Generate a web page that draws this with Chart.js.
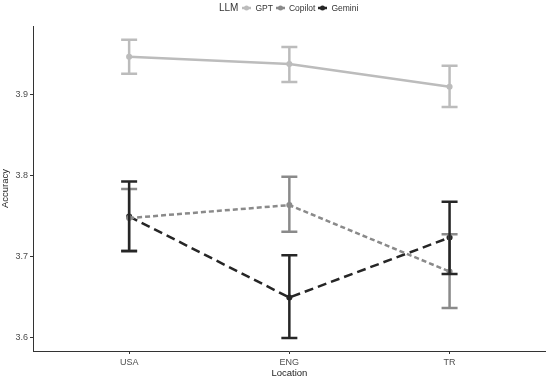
<!DOCTYPE html>
<html>
<head>
<meta charset="utf-8">
<script src="https://cdn.jsdelivr.net/npm/chart.js@4"></script>
<style>
  body { margin:0; background:#fff; }
  #wrap { position:relative; width:550px; height:380px; }
  #legend { position:absolute; top:2px; left:219px; display:flex; align-items:center;
    font-family:"Liberation Sans", Arial, sans-serif; font-size:8.5px; color:#333; }
  #legend .ttl { font-size:10px; margin-right:4px; }
  #legend .it { display:flex; align-items:center; margin-right:3px; }
  #legend canvas { margin-right:4px; }
</style>
</head>
<body>
<div id="wrap">
  <canvas id="chart" width="550" height="380"></canvas>
  <div id="legend"><span class="ttl">LLM</span></div>
</div>
<script>
const locations = ["USA","ENG","TR"];
const llms = ["GPT","Copilot","Gemini"];
const gptMean = [3.946, 3.937, 3.909];
const gptLow  = [3.925, 3.915, 3.884];
const gptHigh = [3.967, 3.958, 3.935];
const copilotMean = [3.747, 3.763, 3.681];
const copilotLow  = [3.707, 3.730, 3.636];
const copilotHigh = [3.783, 3.798, 3.727];
const geminiMean = [3.749, 3.649, 3.723];
const geminiLow  = [3.706, 3.599, 3.678];
const geminiHigh = [3.792, 3.701, 3.767];
const yTicks = [3.6, 3.7, 3.8, 3.9];

const colors = ["#bcbcbc","#8a8a8a","#262626"];
const dashes = [[], [5,3], [9,5]];
const means = [gptMean, copilotMean, geminiMean];
const lows = [gptLow, copilotLow, geminiLow];
const highs = [gptHigh, copilotHigh, geminiHigh];

const datasets = llms.map((name,k)=>({
  label: name,
  data: means[k].map((v,i)=>({x:i, y:v})),
  borderColor: colors[k],
  backgroundColor: colors[k],
  borderWidth: 2.5,
  borderDash: dashes[k],
  pointRadius: 1.8,
  pointHoverRadius: 1.8,
  tension: 0,
  low: lows[k],
  high: highs[k]
}));

const errorBars = {
  id: "errorBars",
  afterDatasetsDraw(chart){
    const ctx = chart.ctx;
    const xs = chart.scales.x, ys = chart.scales.y;
    chart.data.datasets.forEach(ds=>{
      ctx.save();
      ctx.strokeStyle = ds.borderColor;
      ctx.lineWidth = 2.5;
      ds.low.forEach((lo,i)=>{
        const x = xs.getPixelForValue(i);
        const y1 = ys.getPixelForValue(lo), y2 = ys.getPixelForValue(ds.high[i]);
        ctx.beginPath();
        ctx.moveTo(x,y1); ctx.lineTo(x,y2);
        ctx.moveTo(x-8,y1); ctx.lineTo(x+8,y1);
        ctx.moveTo(x-8,y2); ctx.lineTo(x+8,y2);
        ctx.stroke();
      });
      ctx.restore();
    });
  }
};

new Chart(document.getElementById("chart"),{
  type:"line",
  data:{ datasets },
  plugins:[errorBars],
  options:{
    responsive:false,
    animation:false,
    layout:{ padding:{ top:26, right:3, left:0, bottom:0 } },
    plugins:{ legend:{ display:false }, tooltip:{ enabled:false } },
    scales:{
      x:{
        type:"linear", min:-0.6, max:2.6,
        afterBuildTicks: s => { s.ticks = locations.map((_,i)=>({value:i})); },
        afterFit: s => { s.height = 29; },
        ticks:{ callback: v => locations[v], color:"#4d4d4d", font:{family:"Liberation Sans", size:9}, padding:3, maxRotation:0 },
        grid:{ drawOnChartArea:false, drawTicks:true, tickLength:3, color:"#333" },
        border:{ color:"#333", width:1 },
        title:{ display:true, text:"Location", color:"#222", font:{family:"Liberation Sans", size:9.5}, padding:{top:0,bottom:1} }
      },
      y:{
        min:3.583, max:3.984,
        afterBuildTicks: s => { s.ticks = yTicks.map(v=>({value:v})); },
        afterFit: s => { s.width = 33; },
        ticks:{ callback: v => v.toFixed(1), color:"#4d4d4d", font:{family:"Liberation Sans", size:9}, padding:2 },
        grid:{ drawOnChartArea:false, drawTicks:true, tickLength:3, color:"#333" },
        border:{ color:"#333", width:1 },
        title:{ display:true, text:"Accuracy", color:"#222", font:{family:"Liberation Sans", size:9.5}, padding:{top:0,bottom:0} }
      }
    }
  }
});

const legend = document.getElementById("legend");
llms.forEach((name,k)=>{
  const it = document.createElement("span");
  it.className = "it";
  const c = document.createElement("canvas");
  c.width = 9; c.height = 8;
  const g = c.getContext("2d");
  g.strokeStyle = colors[k]; g.fillStyle = colors[k]; g.lineWidth = 2.5;
  g.beginPath(); g.moveTo(0,4); g.lineTo(9,4); g.stroke();
  g.beginPath(); g.arc(4.5,4,2.5,0,Math.PI*2); g.fill();
  it.appendChild(c);
  it.appendChild(document.createTextNode(name));
  legend.appendChild(it);
});
</script>
</body>
</html>
